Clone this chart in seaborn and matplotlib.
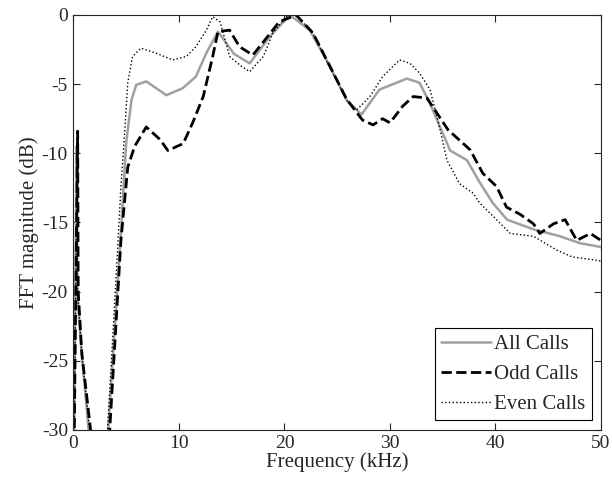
import seaborn as sns
import matplotlib.pyplot as plt
import pandas as pd

# values
all_x = [0.05, 0.3, 0.35, 0.75, 1.5, 2.0, 3.25, 4.5, 5.0, 5.5, 5.95, 6.9, 8.8, 10.35, 11.6, 12.6, 13.7,
         15.2, 16.7, 18.6, 20.5, 22.4, 24.3, 25.9, 27.3, 29.0, 31.6, 32.8, 33.8, 35.7, 37.3, 38.5, 39.75,
         41.1, 43.6, 46.1, 48.0, 49.8, 50]
all_y = [-32, -9.5, -20, -24.2, -30.5, -32, -30.5, -15.8, -9.25, -6.15, -5.06, -4.8, -5.8, -5.3, -4.46,
         -2.75, -1.2, -2.8, -3.5, -1.57, 0, -1.1, -3.7, -6.15, -7.2, -5.4, -4.6, -4.9, -6.4, -9.8, -10.5,
         -12.1, -13.6, -14.8, -15.5, -16.0, -16.5, -16.75, -16.8]

odd_x = [0.05, 0.4, 0.45, 0.8, 1.7, 2.2, 3.4, 4.5, 5.15, 5.8, 6.9, 8.2, 8.95, 10.4, 11.3, 12.3, 13.2, 13.7,
         14.8, 15.75, 17.0, 17.95, 19.5, 21.1, 22.7, 24.3, 25.9, 27.4, 28.4, 29.3, 30.0, 31.2, 32.2, 33.5,
         35.5, 37.6, 38.8, 40.1, 41.05, 42.3, 43.6, 44.2, 45.5, 46.6, 47.7, 49.0, 50]
odd_y = [-32, -8.4, -20, -24.5, -30.5, -32, -30.5, -16.3, -11, -9.5, -8.1, -9.0, -9.8, -9.3, -7.8, -5.9,
         -3.0, -1.2, -1.1, -2.3, -2.9, -2.0, -0.5, 0, -1.3, -3.7, -6.1, -7.6, -7.95, -7.5, -7.8, -6.6,
         -5.9, -6.0, -8.3, -9.75, -11.45, -12.4, -13.9, -14.4, -15.1, -15.8, -15.1, -14.8, -16.3, -15.8, -16.3]

even_x = [0.05, 0.35, 0.4, 0.8, 1.6, 2.1, 3.2, 4.2, 4.5, 4.85, 5.15, 5.6, 6.4, 7.85, 9.4, 10.7, 11.6, 12.6,
          13.2, 13.9, 14.8, 15.9, 16.7, 18.0, 18.9, 20.2, 21.1, 22.7, 24.3, 25.9, 26.8, 28.1, 29.3, 30.9,
          31.9, 32.8, 33.8, 34.6, 35.4, 36.6, 37.9, 38.5, 40.1, 41.4, 43.6, 45.8, 47.3, 49.3, 50]
even_y = [-32, -9.5, -20, -24.5, -30.5, -32, -30.5, -16.75, -12.4, -8.55, -4.9, -3.0, -2.4, -2.77, -3.25,
          -3.0, -2.3, -1.1, -0.12, -0.5, -3.0, -3.7, -4.1, -3.0, -1.3, -0.1, 0, -1.3, -3.8, -6.2, -6.9,
          -5.9, -4.46, -3.25, -3.5, -4.2, -5.4, -7.8, -10.5, -12.2, -12.9, -13.6, -14.8, -15.8, -16.0,
          -17.0, -17.5, -17.7, -17.8]

sns.set_style("ticks")
plt.rcParams['font.family'] = ['Liberation Serif', 'DejaVu Serif']
plt.rcParams['axes.unicode_minus'] = False

fig = plt.figure(figsize=(6.12, 4.83), dpi=100)
ax = fig.add_axes([0.120, 0.110, 0.862, 0.859])

sns.lineplot(x=all_x, y=all_y, sort=False, estimator=None, color='#a0a0a0', lw=1.8, label='All Calls', ax=ax)
sns.lineplot(x=odd_x, y=odd_y, sort=False, estimator=None, color='black', lw=2, ls='--', label='Odd Calls', ax=ax)
sns.lineplot(x=even_x, y=even_y, sort=False, estimator=None, color='black', lw=1, ls=':', label='Even Calls', ax=ax)

ax.set_xlim(0, 50)
ax.set_ylim(-30, 0)
ax.set_xticks(range(0, 51, 10))
ax.set_yticks(range(-30, 1, 5))
ax.tick_params(direction='in', top=True, right=True, labelsize=14, length=5, width=0.8, pad=4)
for s in ax.spines.values():
    s.set_visible(True)
    s.set_linewidth(0.8)
ax.set_xlabel('Frequency (kHz)', fontsize=15, labelpad=0)
ax.set_ylabel('FFT magnitude (dB)', fontsize=15, labelpad=2)

leg = ax.legend(loc='lower right', fontsize=15, fancybox=False, edgecolor='black', framealpha=1,
                handlelength=2.4, handletextpad=0.15, borderaxespad=0.45, labelspacing=0.5, borderpad=0.3)
leg.get_frame().set_linewidth(0.8)

plt.savefig('out.png', dpi=100)
